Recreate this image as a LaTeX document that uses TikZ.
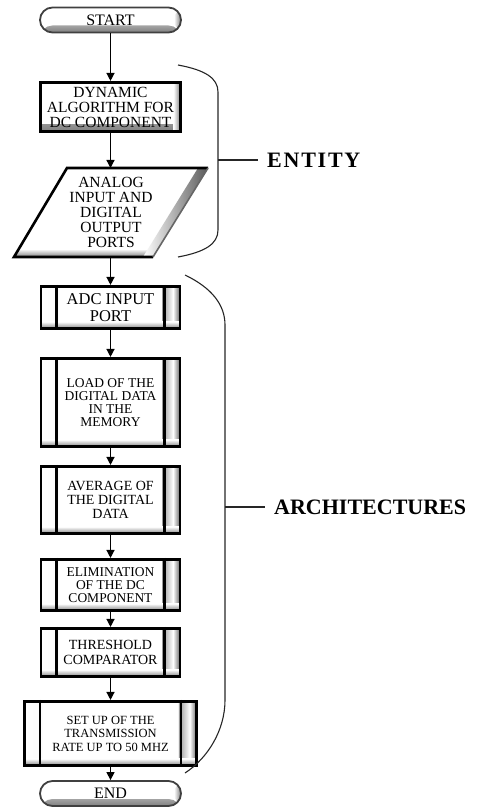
\documentclass[tikz,border=0pt]{standalone}
\usepackage{fontspec}
\setmainfont{Liberation Serif}
\usetikzlibrary{arrows.meta}
\newcommand\fsz[2]{\fontsize{#1}{#2}\selectfont}
\begin{document}
\begin{tikzpicture}[x=1pt,y=-1pt,
  bevel/.style={path picture={
    \shade[top color=white,bottom color=black!50] ([yshift=7pt]path picture bounding box.south west) rectangle (path picture bounding box.south east);
    \shade[left color=white,right color=black!50] ([xshift=-7pt]path picture bounding box.north east) rectangle (path picture bounding box.south east);
  }},
  procbevel/.style={path picture={
    \shade[left color=white,right color=black!12] (path picture bounding box.north west) rectangle ([xshift=18pt]path picture bounding box.south west);
    \shade[left color=black!40,right color=white] ([xshift=-18pt]path picture bounding box.north east) rectangle ([xshift=-7pt]path picture bounding box.south east);
    \shade[left color=white,right color=black!60] ([xshift=-7pt]path picture bounding box.north east) rectangle (path picture bounding box.south east);
    \shade[top color=white,bottom color=black!50] ([yshift=7pt]path picture bounding box.south west) rectangle (path picture bounding box.south east);
  }},
  box/.style={draw, line width=2.6pt, fill=white, inner sep=0pt, align=center, minimum width=140pt, bevel},
  proc/.style={draw, line width=2.6pt, fill=white, inner sep=0pt, align=center, minimum width=139pt, procbevel},
  term/.style={draw=black!75, line width=1.8pt, fill=white, rounded corners=12.5pt, inner sep=0pt, minimum width=141pt, minimum height=25pt, bevel},
  arr/.style={line width=1.3pt, -{Triangle[width=8pt,length=8pt]}},
  brk/.style={line width=1.1pt, black!85},
  lab/.style={font=\fsz{22}{22}\bfseries, inner xsep=9pt, inner ysep=0pt, anchor=west},
  barline/.style={line width=2.6pt}
]
\useasboundingbox (0,0) rectangle (479,810);

% terminals and boxes
\node[term, font=\fsz{16}{16}] (start) at (110.5,20) {START};
\node[box, minimum height=49.5pt, font=\fsz{15.5}{15}] (dyn) at (110.5,107) {DYNAMIC\\ALGORITHM FOR\\DC COMPONENT};

% input / output parallelogram
\coordinate (ioTL) at (67,168);
\coordinate (ioTR) at (208,168);
\coordinate (ioBR) at (153,257);
\coordinate (ioBL) at (14,257);
\coordinate (ioIn) at (110.5,168);
\coordinate (ioOut) at (110.5,257);
\fill[white] (ioTL) -- (ioTR) -- (ioBR) -- (ioBL) -- cycle;
\begin{scope}
  \clip (ioTL) -- (ioTR) -- (ioBR) -- (ioBL) -- cycle;
  \shade[top color=white,bottom color=black!50] (0,249) rectangle (220,257);
  \shade[left color=white,right color=black!65] (ioTR) -- (ioBR) -- ++(-10,0) -- ([xshift=-10pt]ioTR) -- cycle;
\end{scope}
\draw[line width=2.6pt] (ioTR) -- (ioTL) -- (ioBL) -- (ioBR);
\draw[line width=1.6pt, black!60] (ioTR) -- (ioBR);
\node[align=center, font=\fsz{15.5}{15}] (io) at (111,212) {ANALOG\\INPUT AND\\DIGITAL\\OUTPUT\\PORTS};

% predefined processes
\node[proc, minimum height=42.5pt, font=\fsz{16.5}{16.5}] (adc) at (110.5,307.5) {ADC INPUT\\PORT};
\node[proc, minimum height=88.5pt, font=\fsz{13.5}{13}] (load) at (110.5,402.5) {LOAD OF THE\\DIGITAL DATA\\IN THE\\MEMORY};
\node[proc, minimum height=67.5pt, font=\fsz{14}{14}] (avg) at (110.5,500) {AVERAGE OF\\THE DIGITAL\\DATA};
\node[proc, minimum height=51.5pt, font=\fsz{13.5}{13}] (elim) at (110.5,585) {ELIMINATION\\OF THE DC\\COMPONENT};
\node[proc, minimum height=48.5pt, font=\fsz{14}{15}] (thr) at (110.5,652.5) {THRESHOLD\\COMPARATOR};
\node[proc, minimum width=172.5pt, minimum height=64.5pt, font=\fsz{12.5}{13.5}] (setup) at (110.5,733.5) {SET UP OF THE\\TRANSMISSION\\RATE UP TO 50 MHZ};
\node[term, font=\fsz{16}{16}] (end) at (110.5,793.5) {END};

% inner bars of predefined processes
\foreach \n in {adc,load,avg,elim,thr,setup}{
  \draw[barline] ([xshift=17pt]\n.north west) -- ([xshift=17pt]\n.south west);
  \draw[barline] ([xshift=-17pt]\n.north east) -- ([xshift=-17pt]\n.south east);
}

% connectors
\draw[arr] (start.south) -- (dyn.north);
\draw[arr] (dyn.south) -- (ioIn);
\draw[arr] (ioOut) -- (adc.north);
\draw[arr] (adc.south) -- (load.north);
\draw[arr] (load.south) -- (avg.north);
\draw[arr] (avg.south) -- (elim.north);
\draw[arr] (elim.south) -- (thr.north);
\draw[arr] (thr.south) -- (setup.north);
\draw[arr] (setup.south) -- (end.north);

% ENTITY bracket
\node[lab, font=\fsz{22}{22}\bfseries\addfontfeature{LetterSpace=8}] (ent) at (258,160) {ENTITY};
\coordinate (entTick) at (218,160);
\draw[brk] (178,65) .. controls (205,70) and (218,78) .. (218,92) -- (218,230) .. controls (218,244) and (205,252) .. (178,257);
\draw[brk] (entTick) -- (ent.west);

% ARCHITECTURES bracket
\node[lab] (arch) at (265,507) {ARCHITECTURES};
\coordinate (archTick) at (225,507);
\draw[brk] (185,275) .. controls (212,288) and (225,305) .. (225,325) -- (225,700) .. controls (225,730) and (208,758) .. (185,773);
\draw[brk] (archTick) -- (arch.west);
\end{tikzpicture}
\end{document}
